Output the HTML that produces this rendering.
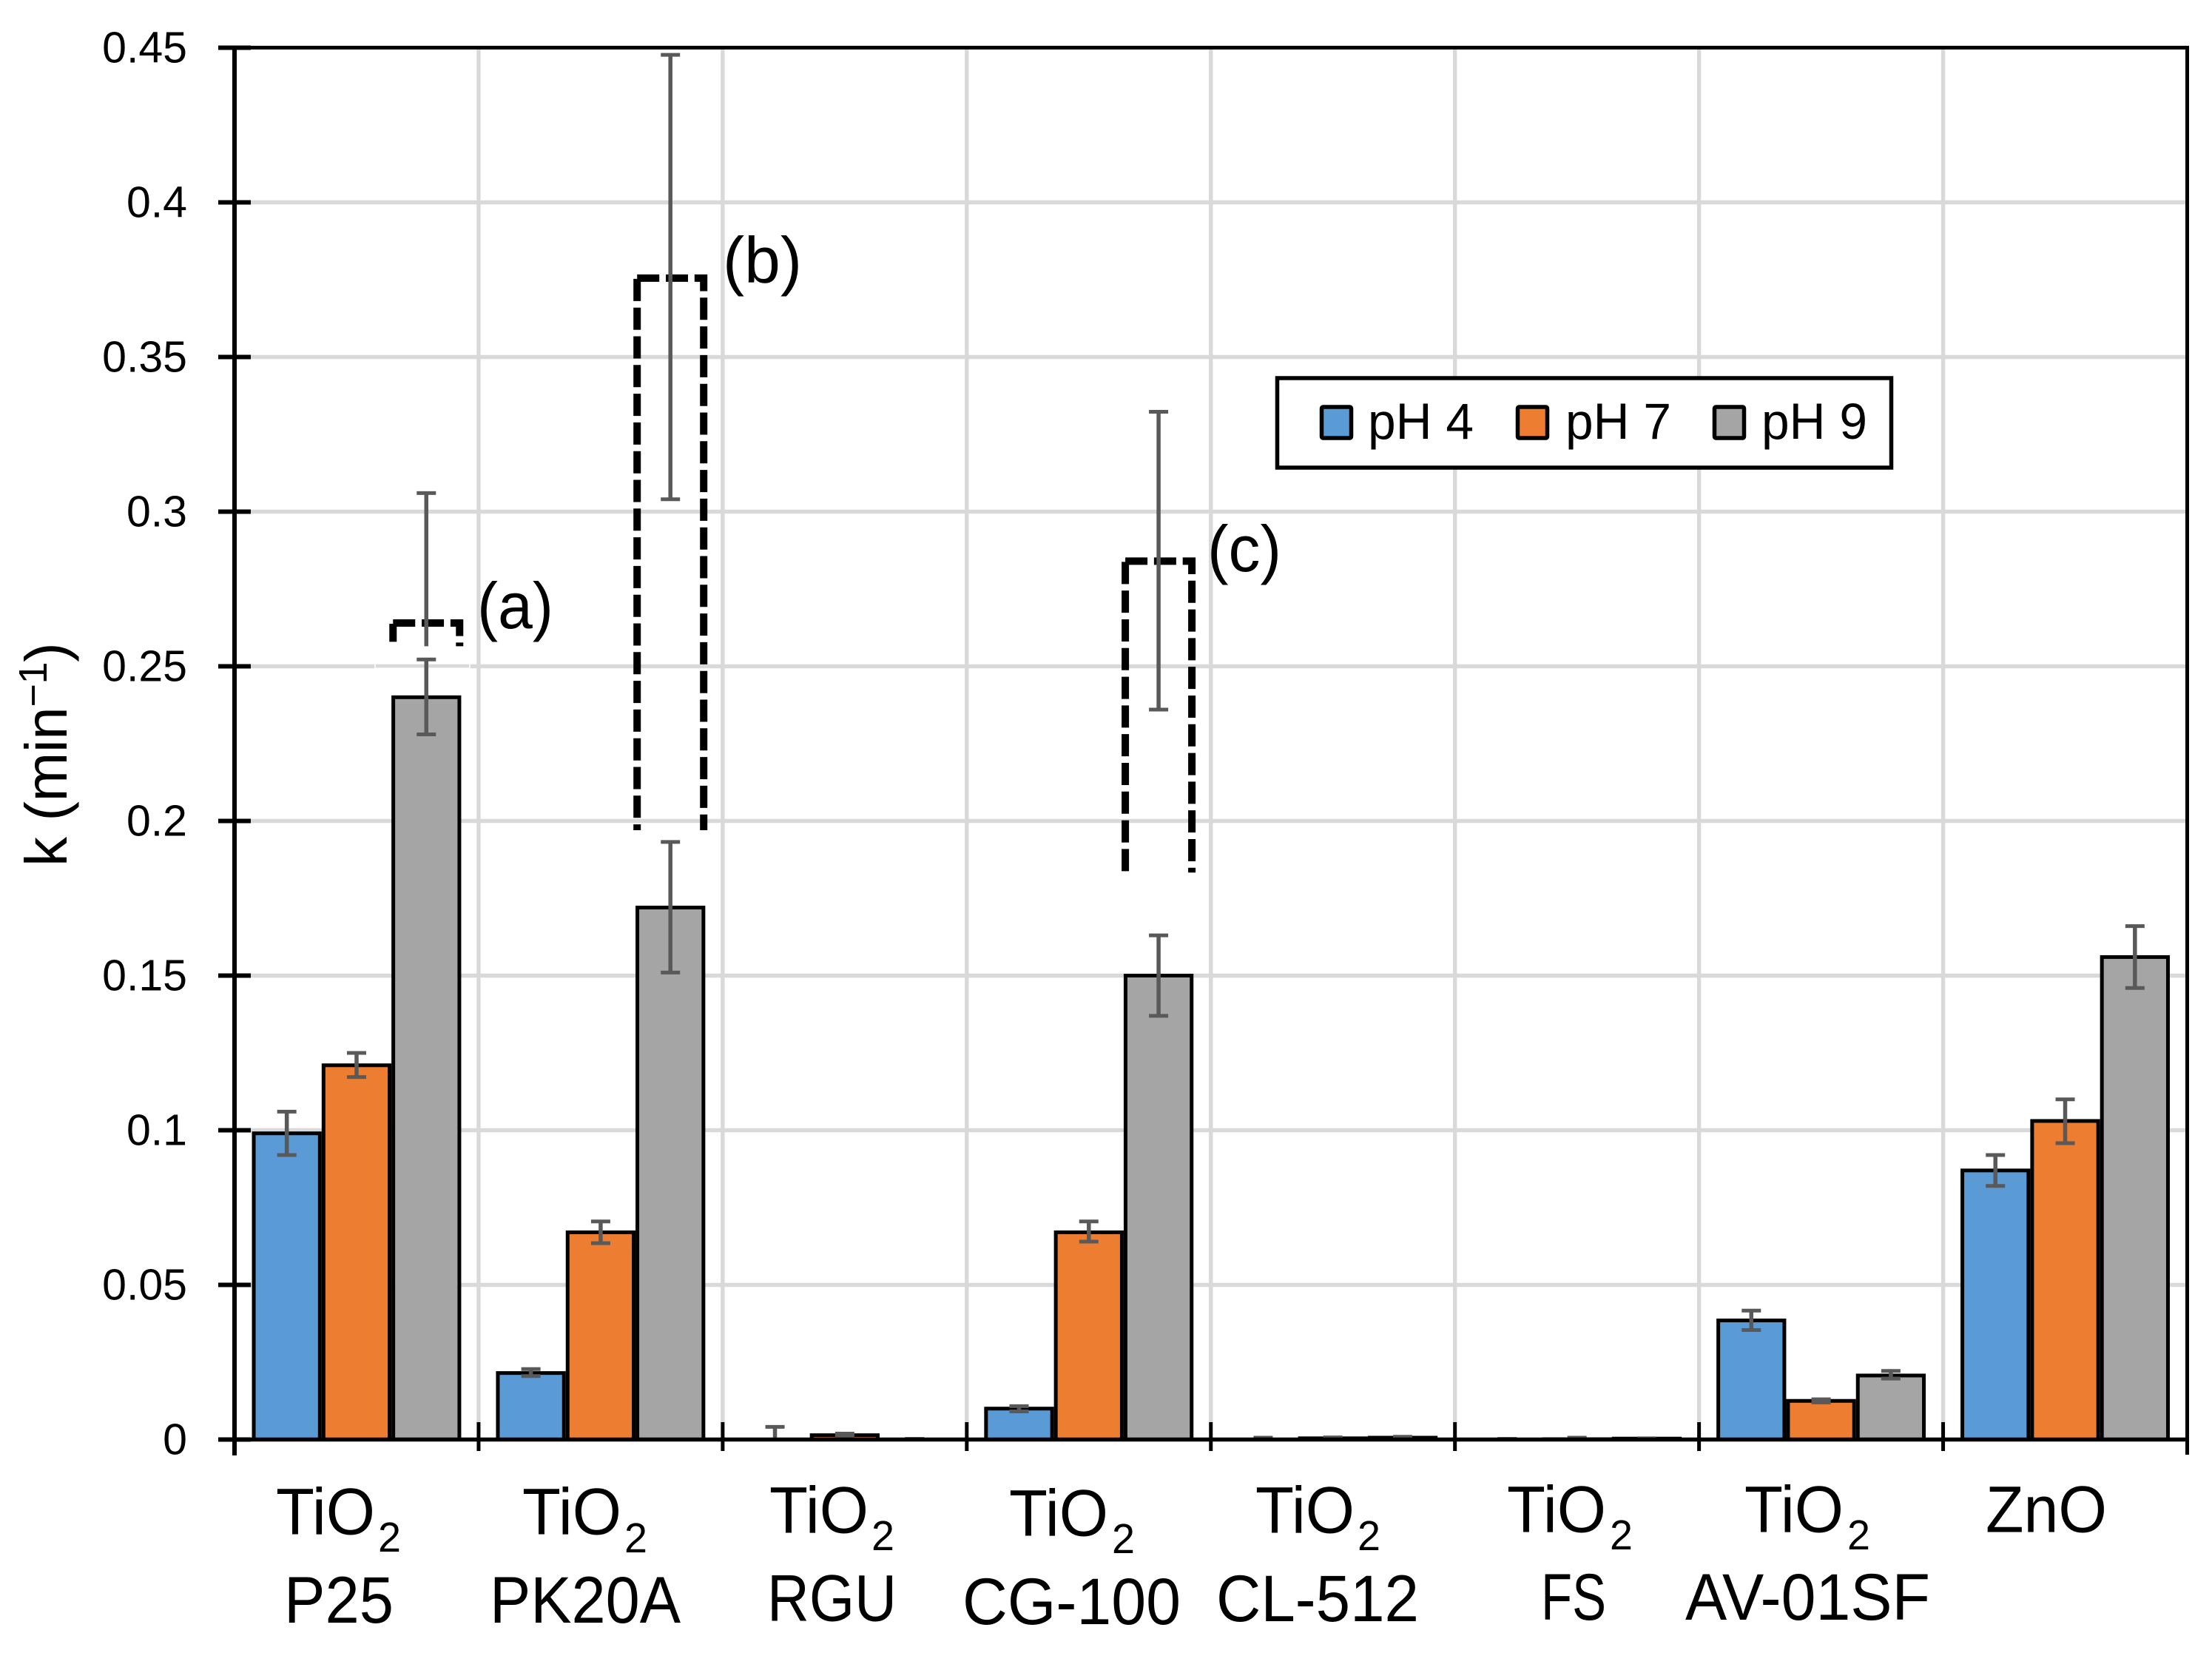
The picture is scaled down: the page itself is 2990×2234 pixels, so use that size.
<!DOCTYPE html>
<html lang="en">
<head>
<meta charset="utf-8">
<title>k vs catalyst and pH</title>
<style>
html,body{margin:0;padding:0;background:#fff;}
svg{display:block;}
text{font-family:"Liberation Sans",sans-serif;fill:#000;}
</style>
</head>
<body>
<svg id="chart" xmlns="http://www.w3.org/2000/svg" width="2990" height="2234" viewBox="0 0 2990 2234">
  <rect x="0" y="0" width="2990" height="2234" fill="#fff"/>
  <g id="grid"></g>
  <rect x="507" y="896.6" width="128" height="6.6" fill="none" stroke="#fff" stroke-width="1.6"/>
  <g id="brackets"></g>
  <g id="bars"></g>
  <g id="errors"></g>
  <g id="axes"></g>
  <g id="ylabels"></g>

  <text transform="translate(90,1171) rotate(-90)" font-size="80" letter-spacing="-0.4">k (min<tspan font-size="54" dy="-27">−1</tspan><tspan dy="27">)</tspan></text>

  <g font-size="89">
    <g>
      <text x="373" y="2073.5" textLength="134" lengthAdjust="spacingAndGlyphs">TiO</text>
      <text x="511" y="2097" font-size="57" textLength="31" lengthAdjust="spacingAndGlyphs">2</text>
      <text x="384" y="2193" textLength="148" lengthAdjust="spacingAndGlyphs">P25</text>
    </g>
    <g>
      <text x="706" y="2073.5" textLength="134" lengthAdjust="spacingAndGlyphs">TiO</text>
      <text x="844" y="2098" font-size="57" textLength="31" lengthAdjust="spacingAndGlyphs">2</text>
      <text x="662" y="2193" textLength="258" lengthAdjust="spacingAndGlyphs">PK20A</text>
    </g>
    <g>
      <text x="1040" y="2071.7" textLength="134" lengthAdjust="spacingAndGlyphs">TiO</text>
      <text x="1178" y="2095" font-size="57" textLength="31" lengthAdjust="spacingAndGlyphs">2</text>
      <text x="1037" y="2190.7" textLength="175" lengthAdjust="spacingAndGlyphs">RGU</text>
    </g>
    <g>
      <text x="1364" y="2075.7" textLength="134" lengthAdjust="spacingAndGlyphs">TiO</text>
      <text x="1503" y="2099" font-size="57" textLength="31" lengthAdjust="spacingAndGlyphs">2</text>
      <text x="1301" y="2195" textLength="295" lengthAdjust="spacingAndGlyphs">CG-100</text>
    </g>
    <g>
      <text x="1697" y="2071.7" textLength="134" lengthAdjust="spacingAndGlyphs">TiO</text>
      <text x="1835" y="2095" font-size="57" textLength="31" lengthAdjust="spacingAndGlyphs">2</text>
      <text x="1644" y="2191" textLength="274" lengthAdjust="spacingAndGlyphs">CL-512</text>
    </g>
    <g>
      <text x="2037" y="2070.7" textLength="134" lengthAdjust="spacingAndGlyphs">TiO</text>
      <text x="2176" y="2094" font-size="57" textLength="31" lengthAdjust="spacingAndGlyphs">2</text>
      <text x="2083" y="2189" font-size="89" textLength="88" lengthAdjust="spacingAndGlyphs">FS</text>
    </g>
    <g>
      <text x="2358" y="2070.7" textLength="134" lengthAdjust="spacingAndGlyphs">TiO</text>
      <text x="2497" y="2094" font-size="57" textLength="31" lengthAdjust="spacingAndGlyphs">2</text>
      <text x="2278" y="2189" textLength="331" lengthAdjust="spacingAndGlyphs">AV-01SF</text>
    </g>
    <g>
      <text x="2684" y="2070.7" textLength="164" lengthAdjust="spacingAndGlyphs">ZnO</text>
    </g>
  </g>

  <text x="645" y="849" font-size="88" textLength="103" lengthAdjust="spacingAndGlyphs">(a)</text>
  <text x="977" y="382" font-size="88" textLength="107" lengthAdjust="spacingAndGlyphs">(b)</text>
  <text x="1632" y="772" font-size="88" textLength="100" lengthAdjust="spacingAndGlyphs">(c)</text>

  <g>
    <rect x="1726.5" y="511" width="830" height="121" fill="#fff" stroke="#000" stroke-width="5.5"/>
    <g>
      <rect x="1786.5" y="550" width="40" height="42" rx="2" fill="#5b9bd5" stroke="#000" stroke-width="5.5"/>
      <text x="1849" y="593" font-size="69" textLength="143" lengthAdjust="spacingAndGlyphs">pH 4</text>
    </g>
    <g>
      <rect x="2051.5" y="550" width="40" height="42" rx="2" fill="#ed7d31" stroke="#000" stroke-width="5.5"/>
      <text x="2116" y="593" font-size="69" textLength="143" lengthAdjust="spacingAndGlyphs">pH 7</text>
    </g>
    <g>
      <rect x="2317.5" y="550" width="40" height="42" rx="2" fill="#a5a5a5" stroke="#000" stroke-width="5.5"/>
      <text x="2381" y="593" font-size="69" textLength="143" lengthAdjust="spacingAndGlyphs">pH 9</text>
    </g>
  </g>
</svg>
<script>
const categories = ["TiO2 P25","TiO2 PK20A","TiO2 RGU","TiO2 CG-100","TiO2 CL-512","TiO2 FS","TiO2 AV-01SF","ZnO"];
const seriesNames = ["pH 4","pH 7","pH 9"];
const ph4 = [0.099,0.0215,0,0.01,0,0,0.0385,0.087];
const ph7 = [0.121,0.067,0.0014,0.067,0.0004,0.0001,0.0125,0.103];
const ph9 = [0.24,0.172,0,0.15,0.0006,0.0003,0.0207,0.156];
const ph4Low = [0.092,0.0205,0,0.0091,0.0002,0,0.0354,0.082];
const ph4High = [0.106,0.0228,0.0041,0.0108,0.0006,0.0002,0.0417,0.092];
const ph7Low = [0.1172,0.0635,0.0009,0.064,0.0003,0,0.012,0.0958];
const ph7High = [0.125,0.0705,0.0019,0.0705,0.0007,0.0006,0.013,0.11];
const ph9Low = [0.228,0.151,0,0.137,0.0004,0.0001,0.0197,0.146];
const ph9High = [0.2522,0.1932,0.0002,0.163,0.0009,0.0004,0.0222,0.166];
const offScaleCategory = [0,1,3];
const offScaleTop = [0.264,0.3755,0.284];
const offScaleBottom = [0.2565,0.197,0.1833];
const upperErrLow = [0.2565,0.304,0.236];
const upperErrHigh = [0.306,0.4477,0.3323];
const upperErrHasLowCap = [false,true,true];
const yTickValues = [0,0.05,0.1,0.15,0.2,0.25,0.3,0.35,0.4,0.45];
const yTickLabels = ["0","0.05","0.1","0.15","0.2","0.25","0.3","0.35","0.4","0.45"];

const NS = "http://www.w3.org/2000/svg";
const plotLeft = 317, plotRight = 2956.5, plotZero = 1945.5, plotPerUnit = 4180;
const catWidth = (plotRight - plotLeft) / categories.length;
const barStep = 94.3;
function yScale(v){ return plotZero - v * plotPerUnit; }
function xCat(i){ return plotLeft + i * catWidth; }
function xBar(i, s){ return xCat(i) + catWidth / 2 + (s - 1) * barStep; }
function makeLine(x1, y1, x2, y2, color, width){
  const el = document.createElementNS(NS, "line");
  el.setAttribute("x1", x1);
  el.setAttribute("y1", y1);
  el.setAttribute("x2", x2);
  el.setAttribute("y2", y2);
  el.setAttribute("stroke", color);
  el.setAttribute("stroke-width", width);
  return el;
}

const gridG = document.getElementById("grid");
const axesG = document.getElementById("axes");
const labelsG = document.getElementById("ylabels");
const barsG = document.getElementById("bars");
const errorsG = document.getElementById("errors");
const bracketsG = document.getElementById("brackets");

yTickValues.forEach(function(v, i){
  if (i > 0 && i < yTickValues.length - 1) {
    const g = makeLine(339, yScale(v), plotRight, yScale(v), "#d9d9d9", 5.4);
    
    
    gridG.appendChild(g);
  }
  const t = makeLine(295, yScale(v), 339, yScale(v), "#000", 6);
  
  
  axesG.appendChild(t);
  const label = document.createElementNS(NS, "text");
  
  
  label.setAttribute("transform", "translate(253," + (yScale(v) + 20) + ") scale(1,1)");
  label.setAttribute("text-anchor", "end");
  label.setAttribute("font-size", "59");
  label.textContent = yTickLabels[i];
  labelsG.appendChild(label);
});

categories.forEach(function(c, i){
  if (i > 0) {
    const vg = makeLine(xCat(i), 62, xCat(i), 1922, "#d9d9d9", 5.4);
    
    
    gridG.appendChild(vg);
    const xt = makeLine(xCat(i), 1922, xCat(i), 1961, "#000", 5);
    
    
    axesG.appendChild(xt);
  }
});

offScaleCategory.forEach(function(cat, i){
  const cx = xBar(cat, 2);
  const left = cx - 45, right = cx + 45;
  const top = yScale(offScaleTop[i]);
  const bottom = yScale(offScaleBottom[i]);
  const bodyPath = document.createElementNS(NS, "path");
  
  
  bodyPath.setAttribute("d", "M" + left + "," + top + " H" + right + " V" + bottom);
  bodyPath.setAttribute("fill", "none");
  bodyPath.setAttribute("stroke", "#000");
  bodyPath.setAttribute("stroke-width", "10");
  bodyPath.setAttribute("stroke-dasharray", "30 8.8");
  bracketsG.appendChild(bodyPath);
  const leftPath = document.createElementNS(NS, "path");
  
  
  leftPath.setAttribute("d", "M" + left + "," + (top + 1) + " V" + (i === 0 ? bottom - 6 : bottom));
  leftPath.setAttribute("fill", "none");
  leftPath.setAttribute("stroke", "#000");
  leftPath.setAttribute("stroke-width", "10");
  leftPath.setAttribute("stroke-dasharray", "30 8.8");
  bracketsG.appendChild(leftPath);
});

const seriesValues = [ph4, ph7, ph9];
const seriesLows = [ph4Low, ph7Low, ph9Low];
const seriesHighs = [ph4High, ph7High, ph9High];
const seriesColors = ["#5b9bd5", "#ed7d31", "#a5a5a5"];
const errColor = "#595959";

seriesValues.forEach(function(values, s){
  values.forEach(function(v, i){
    const cx = xBar(i, s);
    const h = yScale(0) - yScale(v);
    if (h > 0) {
      const bar = document.createElementNS(NS, "rect");
      
      
      bar.setAttribute("x", cx - 44.65);
      bar.setAttribute("y", yScale(v));
      bar.setAttribute("width", 89.3);
      bar.setAttribute("height", h);
      bar.setAttribute("fill", seriesColors[s]);
      bar.setAttribute("stroke", "#000");
      bar.setAttribute("stroke-width", 5);
      barsG.appendChild(bar);
    }
    const lo = yScale(seriesLows[s][i]);
    const hi = yScale(seriesHighs[s][i]);
    const stem = makeLine(cx, lo, cx, hi, errColor, 5.5);
    
    
    errorsG.appendChild(stem);
    const capHi = makeLine(cx - 13, hi, cx + 13, hi, errColor, 5);
    
    
    errorsG.appendChild(capHi);
    if (seriesLows[s][i] > 0) {
      const capLo = makeLine(cx - 13, lo, cx + 13, lo, errColor, 5);
      
      
      errorsG.appendChild(capLo);
    }
  });
});

offScaleCategory.forEach(function(cat, i){
  const cx = xBar(cat, 2);
  const lo = yScale(upperErrLow[i]);
  const hi = yScale(upperErrHigh[i]);
  const stem = makeLine(cx, lo, cx, hi, errColor, 5.5);
  
  
  errorsG.appendChild(stem);
  const capHi = makeLine(cx - 13, hi, cx + 13, hi, errColor, 5);
  
  
  errorsG.appendChild(capHi);
  if (upperErrHasLowCap[i]) {
    const capLo = makeLine(cx - 13, lo, cx + 13, lo, errColor, 5);
    
    
    errorsG.appendChild(capLo);
  }
});

const axisLeft = makeLine(plotLeft, 62, plotLeft, 1967, "#000", 6);


axesG.appendChild(axisLeft);
const axisRight = makeLine(plotRight, 62, plotRight, 1966, "#000", 5);


axesG.appendChild(axisRight);
const axisTop = makeLine(295, 64.4, plotRight + 2.5, 64.4, "#000", 5);


axesG.appendChild(axisTop);
const axisBottom = makeLine(295, plotZero, plotRight + 2.5, plotZero, "#000", 5.5);


axesG.appendChild(axisBottom);
</script>
</body>
</html>
